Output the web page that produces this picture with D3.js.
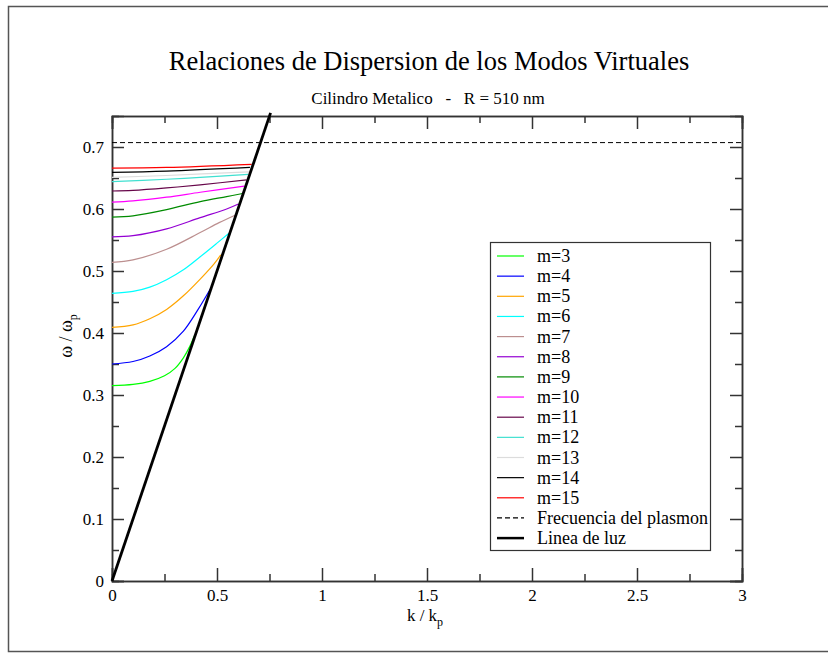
<!DOCTYPE html>
<html>
<head>
<meta charset="utf-8">
<script src="https://cdn.jsdelivr.net/npm/d3@7"></script>
<style>
  body { margin: 0; background: #fff; }
  svg text { font-family: "Liberation Serif", "DejaVu Serif", serif; fill: #000; }
</style>
</head>
<body>
<svg width="828" height="654"></svg>
<script>
// mode labels and colours (xmgrace palette)
var modeNames = ["m=3","m=4","m=5","m=6","m=7","m=8","m=9","m=10","m=11","m=12","m=13","m=14","m=15"];
var modeColors = ["#00ff00","#0000ff","#ffa500","#00ffff","#bc8f8f","#9400d3","#008b00",
                  "#ff00ff","#67074a","#40e0d0","#dcdcdc","#000000","#ff0000"];

// dispersion curves: [k/kp, w/wp]
var m3  = [[0,0.315],[0.10,0.317],[0.18,0.322],[0.25,0.331],[0.30,0.343],[0.34,0.360],[0.37,0.378],[0.392,0.395]];
var m4  = [[0,0.350],[0.10,0.354],[0.18,0.363],[0.26,0.378],[0.34,0.403],[0.41,0.438],[0.475,0.475]];
var m5  = [[0,0.409],[0.10,0.413],[0.18,0.423],[0.26,0.438],[0.34,0.460],[0.42,0.487],[0.487,0.512],[0.518,0.526]];
var m6  = [[0,0.464],[0.10,0.467],[0.18,0.474],[0.26,0.486],[0.34,0.502],[0.42,0.523],[0.50,0.545],[0.557,0.561]];
var m7  = [[0,0.514],[0.10,0.518],[0.26,0.535],[0.42,0.562],[0.51,0.578],[0.586,0.590]];
var m8  = [[0,0.555],[0.10,0.557],[0.26,0.568],[0.42,0.586],[0.546,0.600],[0.602,0.608]];
var m9  = [[0,0.587],[0.10,0.589],[0.26,0.599],[0.42,0.612],[0.546,0.620],[0.622,0.625]];
var m10 = [[0,0.611],[0.10,0.613],[0.26,0.619],[0.42,0.627],[0.63,0.637]];
var m11 = [[0,0.629],[0.10,0.630],[0.26,0.634],[0.42,0.639],[0.641,0.647]];
var m12 = [[0,0.644],[0.26,0.648],[0.42,0.651],[0.648,0.656]];
var m13 = [[0,0.651],[0.26,0.654],[0.652,0.660]];
var m14 = [[0,0.659],[0.26,0.661],[0.657,0.667]];
var m15 = [[0,0.666],[0.26,0.667],[0.665,0.672]];
var modes = [m3, m4, m5, m6, m7, m8, m9, m10, m11, m12, m13, m14, m15];

var lightLine = [[0,0],[0.755,0.755]];
var plasmonLine = [[0,0.7071],[3,0.7071]];

var xTicks = [0, 0.5, 1, 1.5, 2, 2.5, 3];
var yTicks = [0, 0.1, 0.2, 0.3, 0.4, 0.5, 0.6, 0.7];

var svg = d3.select("svg");
var pLeft = 112, pRight = 742, pTop = 116, pBottom = 581;

var x = d3.scaleLinear().domain([0, 3]).range([pLeft, pRight]);
var y = d3.scaleLinear().domain([0, 0.75]).range([pBottom, pTop]);

// page frame
svg.append("rect")
  .attr("x", 8.5).attr("y", 6.5).attr("width", 840).attr("height", 645)
  .attr("fill", "none").attr("stroke", "#555").attr("stroke-width", 1.5);

// titles
svg.append("text").attr("x", 429).attr("y", 70).attr("text-anchor", "middle")
  .style("font-size", "26.5px").text("Relaciones de Dispersion de los Modos Virtuales");
svg.append("text").attr("x", 428).attr("y", 104).attr("text-anchor", "middle")
  .style("font-size", "17px").style("white-space", "pre")
  .text("Cilindro Metalico   -   R = 510 nm");

// axes, ticks inward on all four sides
function styleAxis(g) {
  g.attr("font-family", "'Liberation Serif', serif").attr("font-size", 17);
  g.select(".domain").attr("stroke", "#333").attr("stroke-width", 1.5);
  g.selectAll(".tick line").attr("stroke", "#333").attr("stroke-width", 1.5);
  g.selectAll(".tick text").attr("fill", "#000");
}
var xMinor = d3.range(0, 3.01, 0.25).filter(function(d) { return xTicks.indexOf(d) < 0; });
var yMinor = d3.range(0.05, 0.75, 0.1);

svg.append("g").attr("transform", "translate(0," + pBottom + ")")
  .call(d3.axisBottom(x).tickValues(xTicks).tickSize(-13).tickPadding(8).tickFormat(d3.format("")))
  .call(styleAxis);
svg.append("g").attr("transform", "translate(0," + pBottom + ")")
  .call(d3.axisBottom(x).tickValues(xMinor).tickSize(-7).tickFormat(""))
  .call(styleAxis);
svg.append("g").attr("transform", "translate(0," + pTop + ")")
  .call(d3.axisTop(x).tickValues(xTicks).tickSize(-13).tickFormat(""))
  .call(styleAxis);
svg.append("g").attr("transform", "translate(0," + pTop + ")")
  .call(d3.axisTop(x).tickValues(xMinor).tickSize(-7).tickFormat(""))
  .call(styleAxis);

svg.append("g").attr("transform", "translate(" + pLeft + ",0)")
  .call(d3.axisLeft(y).tickValues(yTicks).tickSize(-12).tickPadding(8).tickFormat(d3.format("")))
  .call(styleAxis);
svg.append("g").attr("transform", "translate(" + pLeft + ",0)")
  .call(d3.axisLeft(y).tickValues(yMinor).tickSize(-7).tickFormat(""))
  .call(styleAxis);
svg.append("g").attr("transform", "translate(" + pRight + ",0)")
  .call(d3.axisRight(y).tickValues(yTicks).tickSize(-12).tickFormat(""))
  .call(styleAxis);
svg.append("g").attr("transform", "translate(" + pRight + ",0)")
  .call(d3.axisRight(y).tickValues(yMinor).tickSize(-7).tickFormat(""))
  .call(styleAxis);

// axis labels
var xl = svg.append("text").attr("x", 425).attr("y", 621).attr("text-anchor", "middle").style("font-size", "17px");
xl.append("tspan").text("k / k");
xl.append("tspan").attr("dy", 5).style("font-size", "12px").text("p");

var yl = svg.append("text").attr("transform", "translate(72,336) rotate(-90)").attr("text-anchor", "middle").style("font-size", "18px");
yl.append("tspan").text("ω / ω");
yl.append("tspan").attr("dy", 5).style("font-size", "12px").text("p");

var line = d3.line()
  .x(function(d) { return x(d[0]); })
  .y(function(d) { return y(d[1]); })
  .curve(d3.curveCatmullRom);

// curves
svg.append("g").selectAll("path")
  .data(modes)
  .enter()
  .append("path")
    .attr("d", line)
    .attr("fill", "none")
    .attr("stroke", function(d, i) { return modeColors[i]; })
    .attr("stroke-width", 1.2);

svg.append("path").attr("d", d3.line().x(function(d) { return x(d[0]); }).y(function(d) { return y(d[1]); })(plasmonLine))
  .attr("fill", "none").attr("stroke", "#000").attr("stroke-width", 1).attr("stroke-dasharray", "5,3");

svg.append("path").attr("d", d3.line().x(function(d) { return x(d[0]); }).y(function(d) { return y(d[1]); })(lightLine))
  .attr("fill", "none").attr("stroke", "#000").attr("stroke-width", 2.8);

// legend
var legendNames = modeNames.concat(["Frecuencia del plasmon", "Linea de luz"]);
var legend = svg.append("g");
legend.append("rect")
  .attr("x", 490.5).attr("y", 242.5).attr("width", 220).attr("height", 308)
  .attr("fill", "#fff").attr("stroke", "#333").attr("stroke-width", 1.2);

var item = legend.selectAll("g.item")
  .data(legendNames)
  .enter()
  .append("g")
    .attr("class", "item")
    .attr("transform", function(d, i) { return "translate(0," + (256 + i * 20.15) + ")"; });

item.append("line")
  .attr("x1", 497).attr("x2", 524).attr("y1", 0).attr("y2", 0)
  .attr("stroke", function(d, i) { return i < modeColors.length ? modeColors[i] : "#000"; })
  .attr("stroke-width", function(d, i) { return i === 14 ? 2.5 : 1.2; })
  .attr("stroke-dasharray", function(d, i) { return i === 13 ? "5,3" : null; });

item.append("text")
  .attr("x", 537).attr("y", 6)
  .style("font-size", "18px")
  .text(function(d) { return d; });
</script>
</body>
</html>
